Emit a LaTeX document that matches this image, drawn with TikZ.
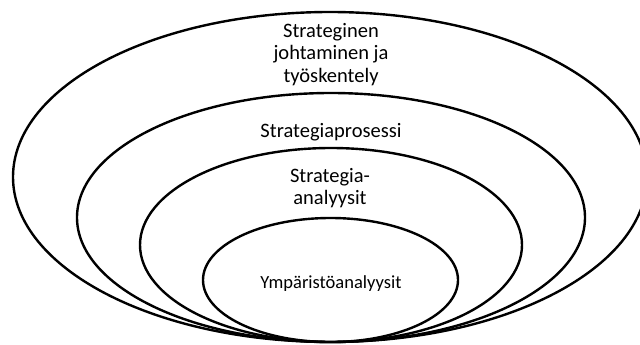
\documentclass[tikz,border=0pt]{standalone}
\usepackage{fontspec}
\setmainfont{Carlito}
\usetikzlibrary{shapes.geometric}
\begin{document}
\begin{tikzpicture}[x=1pt,y=-1pt,
  ring/.style={ellipse, draw=black, line width=2.4pt, inner sep=0pt, outer sep=0pt},
  biglabel/.style={align=center, inner sep=0pt, font=\fontsize{20.5}{22.3}\selectfont},
  smalllabel/.style={inner sep=0pt, font=\fontsize{18.5}{22}\selectfont}]
\useasboundingbox (0,0) rectangle (640,345);
\node[ring, minimum width=634pt, minimum height=330pt] (outer) at (330,177) {};
\node[ring, minimum width=508pt, minimum height=249pt] (process) at (331,217.5) {};
\node[ring, minimum width=382pt, minimum height=194pt] (analyses) at (331,245) {};
\node[ring, minimum width=255pt, minimum height=124pt] (env) at (330.5,280) {};
\node[biglabel] (t1) at (331,54.5) {Strateginen\\johtaminen ja\\työskentely};
\node[biglabel] (t2) at (331,132.1) {Strategiaprosessi};
\node[biglabel] (t3) at (330,188) {Strategia-\\analyysit};
\node[smalllabel] (t4) at (331,283.6) {Ympäristöanalyysit};
\end{tikzpicture}
\end{document}
